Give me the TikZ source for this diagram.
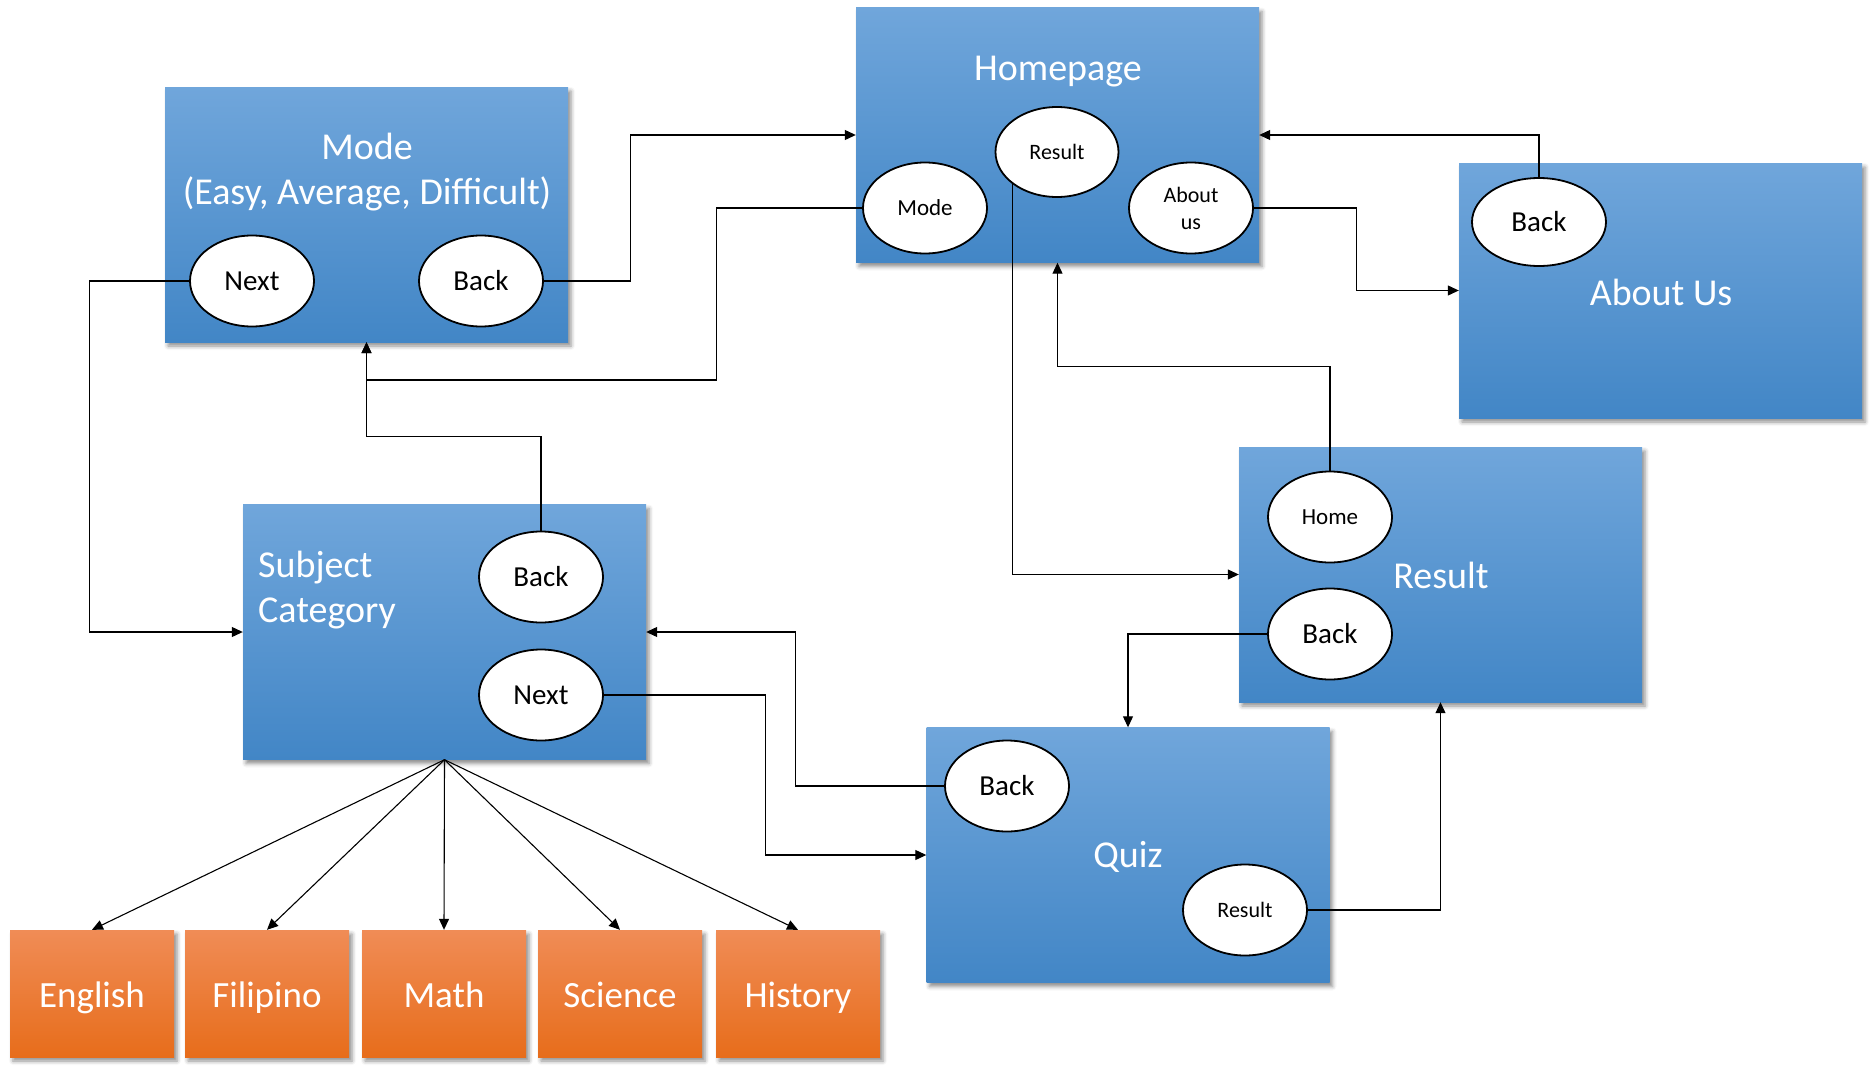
\documentclass[tikz,border=0pt]{standalone}
\usepackage{fontspec}
\setmainfont{Carlito}
\usetikzlibrary{arrows.meta,shadows.blur,shapes.geometric,calc}

\definecolor{bluetop}{RGB}{112,166,219}
\definecolor{bluebot}{RGB}{66,134,198}
\definecolor{orgtop}{RGB}{240,140,86}
\definecolor{orgbot}{RGB}{231,109,27}

\begin{document}
\begin{tikzpicture}[x=1pt,y=-1pt,
 screen/.style={rectangle, minimum width=403pt, minimum height=255pt, inner sep=0pt,
   top color=bluetop, bottom color=bluebot, draw=none,
   blur shadow={shadow xshift=3pt, shadow yshift=-4pt, shadow opacity=45, shadow blur radius=4pt}},
 subjbox/.style={rectangle, minimum width=164pt, minimum height=127pt, inner sep=0pt,
   top color=orgtop, bottom color=orgbot, draw=none,
   blur shadow={shadow xshift=3pt, shadow yshift=-4pt, shadow opacity=45, shadow blur radius=4pt},
   text=white, font=\fontsize{37}{40}\selectfont, text height=27pt, text depth=0pt},
 btn/.style={ellipse, draw=black, line width=1.8pt, fill=white, minimum width=124pt,
   minimum height=91pt, inner sep=0pt, font=\fontsize{29}{32}\selectfont},
 btns/.style={btn, font=\fontsize{22}{27}\selectfont, align=center},
 title/.style={text=white, font=\fontsize{38}{45}\selectfont, inner sep=0pt},
 arr/.style={line width=1.1pt, -{Triangle[length=11pt,width=10pt]}},
]
\useasboundingbox (0,0) rectangle (1872,1071);

% screens
\node[screen] (home) at (1057.5,135) {};
\node[screen] (mode) at (366.5,214.5) {};
\node[screen] (subj) at (444.5,632) {};
\node[screen] (res) at (1440.5,574.5) {};
\node[screen] (quiz) at (1128,855) {};
\node[screen] (about) at (1660.5,290.5) {};

% titles
\node[title] (homet) at (1058,72) {Homepage};
\node[title, align=center] (modet) at (367,172) {Mode\\(Easy, Average, Difficult)};
\node[title, align=left, anchor=west] (subjt) at (258,590) {Subject\\Category};
\node[title] (rest) at (1441,575) {Result};
\node[title] (quizt) at (1128,857) {Quiz};
\node[title] (aboutt) at (1661,292) {About Us};

% subject boxes
\node[subjbox] (eng) at (92,993.5) {English};
\node[subjbox] (fil) at (267,993.5) {Filipino};
\node[subjbox] (math) at (444,993.5) {Math};
\node[subjbox] (sci) at (620,993.5) {Science};
\node[subjbox] (hist) at (798,993.5) {History};

% buttons
\node[btns, minimum width=123pt, minimum height=90pt] (hres) at (1057,152) {Result};
\node[btn, font=\fontsize{23}{28}\selectfont] (hmode) at (925,208) {Mode};
\node[btns] (habout) at (1191,208) {About\\us};
\node[btn] (mnext) at (252,281) {Next};
\node[btn] (mback) at (481,281) {Back};
\node[btn] (sback) at (541,577) {Back};
\node[btn] (snext) at (541,695) {Next};
\node[btns, font=\fontsize{23}{27}\selectfont] (rhome) at (1330,517) {Home};
\node[btn] (rback) at (1330,634) {Back};
\node[btn] (qback) at (1007,786) {Back};
\node[btns] (qres) at (1245,910) {Result};
\node[btn, minimum width=134pt, minimum height=88pt] (aback) at (1539,222) {Back};

% connectors
\draw[arr] (mback.east) -- ++(87,0) |- (home.west);
\draw[arr] (hmode.west) -| ++(-146,172) -| (mode.south);
\draw[arr] (sback.north) -- ++(0,-94) -| (mode.south);
\draw[arr] (mnext.west) -- ++(-100,0) |- (subj.west);
\draw[arr] (habout.east) -- ++(103,0) |- (about.west);
\draw[arr] (aback.north) |- (home.east);
\draw[arr] (hres.216.6) |- (res.west);
\draw[arr] (rhome.north) -- ++(0,-104) -| (home.south);
\draw[arr] (rback.west) -| (quiz.north);
\draw[arr] (qres.east) -| (res.south);
\draw[arr] (qback.west) -- ++(-149,0) |- (subj.east);
\draw[arr] (snext.east) -- ++(162,0) |- (quiz.west);
\foreach \t in {eng,fil,math,sci,hist}
  \draw[arr] (subj.south) -- (\t.north);
\end{tikzpicture}
\end{document}
